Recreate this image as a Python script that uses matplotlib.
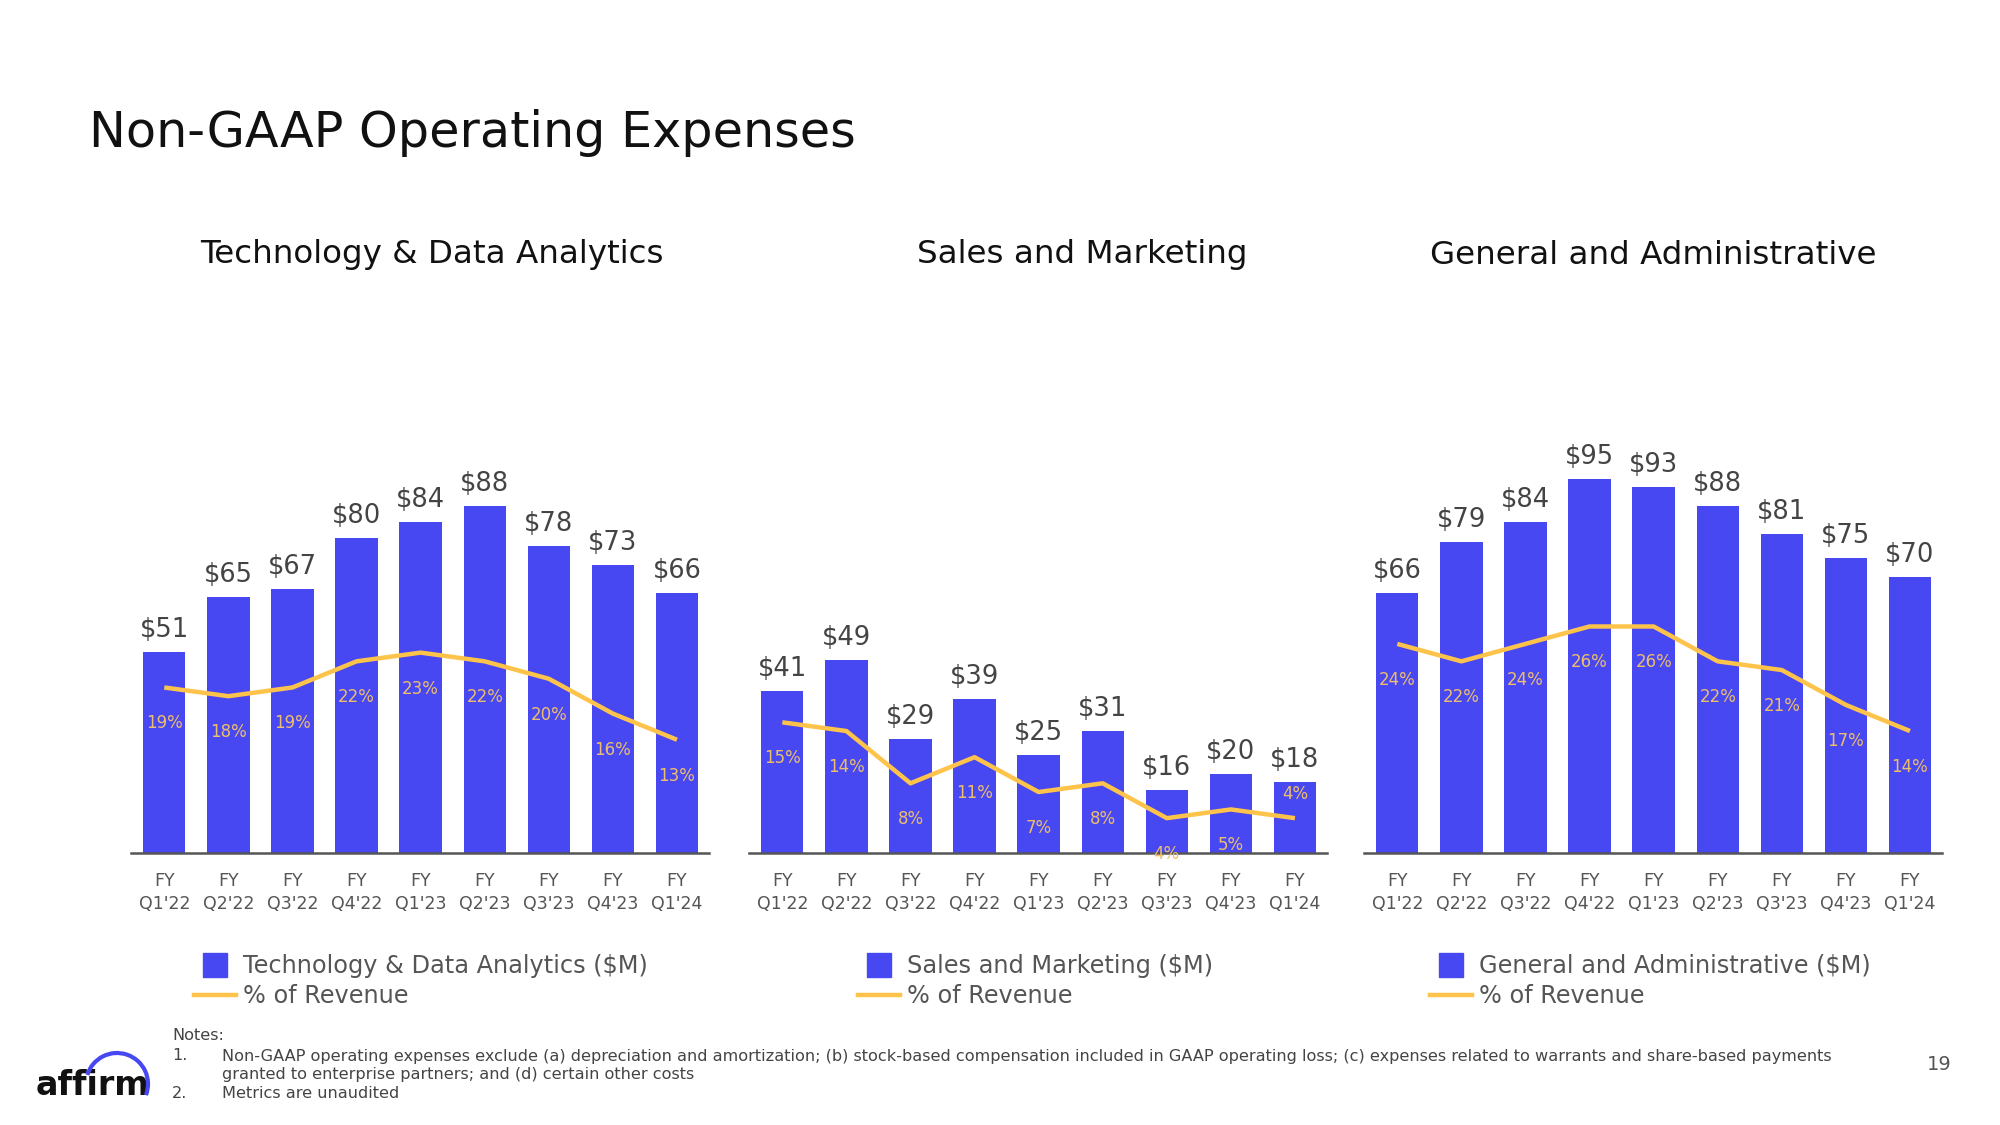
import numpy as np
import matplotlib
matplotlib.use("Agg")
import matplotlib.pyplot as plt
from matplotlib.lines import Line2D
from matplotlib.patches import Arc

plt.rcParams['font.family'] = ['DejaVu Sans']

# ---------------------------------------------------------
# Data
# ---------------------------------------------------------
quarters = ["FY\nQ1'22", "FY\nQ2'22", "FY\nQ3'22", "FY\nQ4'22", "FY\nQ1'23",
            "FY\nQ2'23", "FY\nQ3'23", "FY\nQ4'23", "FY\nQ1'24"]

tech_spend = [51, 65, 67, 80, 84, 88, 78, 73, 66]
tech_pct = [19, 18, 19, 22, 23, 22, 20, 16, 13]

sales_spend = [41, 49, 29, 39, 25, 31, 16, 20, 18]
sales_pct = [15, 14, 8, 11, 7, 8, 4, 5, 4]

ga_spend = [66, 79, 84, 95, 93, 88, 81, 75, 70]
ga_pct = [24, 22, 24, 26, 26, 22, 21, 17, 14]

titles = ["Technology & Data Analytics", "Sales and Marketing", "General and Administrative"]
legend_names = ["Technology & Data Analytics ($M)", "Sales and Marketing ($M)",
                "General and Administrative ($M)"]

BAR = '#4848F2'
LINE = '#FDC34A'
PCT_TXT = '#EDBE6C'
GREY = '#555555'

W, H = 2000, 1125


def fx(x):
    return x / W


def fy(y):
    return 1 - y / H


fig = plt.figure(figsize=(20, 11.25), dpi=100)
fig.patch.set_facecolor('white')

fig.text(fx(89), fy(133), "Non-GAAP Operating Expenses", fontsize=35.5, color='#111111',
         ha='left', va='center')

panels = [
    (tech_spend, tech_pct, 131, 432, 194),
    (sales_spend, sales_pct, 749, 1082, 858),
    (ga_spend, ga_pct, 1364, 1653, 1430),
]
# labels drawn above the line instead of below
pct_above = {(1, 8)}

for i, (spend, pct, left, title_x, leg_x) in enumerate(panels):
    ax = fig.add_axes([fx(left), fy(853), 578 / W, 433 / H])
    x = np.arange(len(quarters))
    bars = ax.bar(x, spend, width=0.66, color=BAR, zorder=2)
    ax.set_xlim(-0.52, 8.5)
    ax.set_ylim(0, 109.9)
    for s in ['top', 'right', 'left']:
        ax.spines[s].set_visible(False)
    ax.spines['bottom'].set_color(GREY)
    ax.spines['bottom'].set_linewidth(1.8)
    ax.spines['bottom'].set_zorder(5)
    ax.set_yticks([])
    ax.set_xticks(x)
    ax.set_xticklabels(quarters, fontsize=12.5, color=GREY, linespacing=1.35)
    ax.tick_params(axis='x', length=0, pad=14)
    ax.patch.set_alpha(0)

    for rect, v in zip(bars, spend):
        ax.annotate("$%d" % v, xy=(rect.get_x() + rect.get_width() / 2, v),
                    xytext=(0, 22), textcoords='offset pixels',
                    ha='center', va='center', fontsize=18.5, color='#444444')

    ax2 = ax.twinx()
    ax2.set_ylim(0, 49.7)
    ax2.axis('off')
    ax2.plot(x, pct, color=LINE, lw=3.2, solid_capstyle='butt', zorder=3)
    for j, p in enumerate(pct):
        dy = 24 if (i, j) in pct_above else -36
        t = ax2.annotate("%d%%" % p, xy=(x[j], p), xytext=(0, dy),
                         textcoords='offset pixels', ha='center', va='center',
                         fontsize=12, color=PCT_TXT, annotation_clip=False)
        t.set_clip_on(True)

    fig.text(fx(title_x), fy(255), titles[i], fontsize=23.4, color='#111111',
             ha='center', va='center')

    handles = [
        Line2D([], [], marker='s', ls='none', color=BAR, markersize=17),
        Line2D([], [], color=LINE, lw=3.2),
    ]
    fig.legend(handles, [legend_names[i], "% of Revenue"], loc='center left',
               bbox_to_anchor=(fx(leg_x), fy(981)), frameon=False, fontsize=17.3,
               labelcolor=GREY, handlelength=1.75, handletextpad=0.3,
               labelspacing=0.25, borderpad=0, borderaxespad=0)

# notes
note_kw = dict(fontsize=11.6, color='#444444', ha='left', va='center')
fig.text(fx(172), fy(1036), "Notes:", **note_kw)
fig.text(fx(172), fy(1056), "1.", **note_kw)
fig.text(fx(222), fy(1056), "Non-GAAP operating expenses exclude (a) depreciation and amortization; "
         "(b) stock-based compensation included in GAAP operating loss; (c) expenses related to "
         "warrants and share-based payments", **note_kw)
fig.text(fx(222), fy(1075), "granted to enterprise partners; and (d) certain other costs", **note_kw)
fig.text(fx(172), fy(1094), "2.", **note_kw)
fig.text(fx(222), fy(1094), "Metrics are unaudited", **note_kw)

fig.text(fx(1939), fy(1064), "19", fontsize=14, color=GREY, ha='center', va='center')

# logo
fig.text(fx(36), fy(1095), "affirm", fontsize=24, fontweight='bold', color='#111111',
         ha='left', va='baseline')
logo_ax = fig.add_axes([0, 0, 1, 1], zorder=10)
logo_ax.set_xlim(0, W)
logo_ax.set_ylim(H, 0)
logo_ax.axis('off')
logo_ax.add_patch(Arc((117, 1084), 62, 62, theta1=197, theta2=381, color=BAR, lw=3))

fig.savefig("out.png", dpi=100)
